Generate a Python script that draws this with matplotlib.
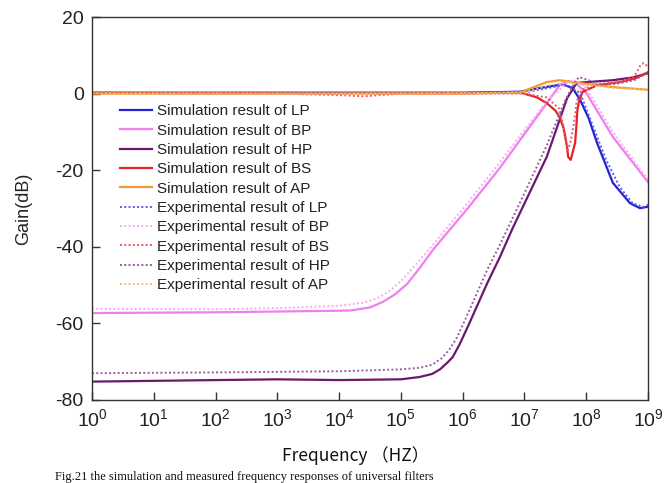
import matplotlib
matplotlib.use("Agg")
import matplotlib.pyplot as plt
import numpy as np
from matplotlib.ticker import FixedLocator, FuncFormatter, NullLocator

plt.rcParams['font.family'] = ['Liberation Sans', 'DejaVu Sans']
plt.rcParams['mathtext.fontset'] = 'custom'
plt.rcParams['mathtext.rm'] = 'Liberation Sans'
plt.rcParams['mathtext.it'] = 'Liberation Sans'
plt.rcParams['axes.unicode_minus'] = False

# ---------------- data (frequency in Hz, gain in dB) ----------------
lp_sim_f = [1, 1e2, 1e4, 1e6, 8.5e6, 2e7, 4.1e7, 6e7, 8e7, 1.1e8, 1.5e8, 2.7e8, 5.1e8, 7.4e8, 9.5e8, 1e9]
lp_sim_g = [0.2, 0.2, 0.2, 0.2, 0.5, 1.6, 2.4, 1.5, -1.7, -6.5, -12.9, -23.3, -28.6, -29.9, -29.6, -29.5]

lp_exp_f = [1, 1e2, 1e4, 1e6, 1e7, 2e7, 4.5e7, 8e7, 1.3e8, 2.1e8, 3.5e8, 5.6e8, 8.3e8, 1e9]
lp_exp_g = [0.3, 0.0, 0.2, 0.1, 0.3, 1.2, 2.3, 0.2, -8.7, -17.3, -24.4, -28.6, -29.6, -29.0]

bp_sim_f = [1, 1e2, 1e3, 1e4, 1.6e4, 3.2e4, 5.1e4, 7.9e4, 1.26e5, 2e5, 3.3e5, 1.2e6, 4e6, 2.3e7, 3.7e7, 5.4e7, 7e7, 1e8, 2.7e8, 1e9]
bp_sim_g = [-57.3, -57.1, -56.9, -56.7, -56.6, -55.8, -54.4, -52.5, -49.7, -45.6, -40.8, -30.0, -19.4, -2.5, 2.2, 3.3, 2.5, 0.2, -11.3, -23.1]

bp_exp_f = [1, 1e2, 1e3, 1e4, 2.5e4, 4.5e4, 7e4, 1.1e5, 1.8e5, 3.3e5, 1.2e6, 4e6, 2.3e7, 5e7, 7e7, 1e8, 2.7e8, 1e9]
bp_exp_g = [-56.2, -56.3, -56.0, -55.4, -54.6, -53.2, -51.2, -48.3, -44.4, -39.5, -28.6, -17.9, -2.0, 3.0, 3.5, 1.5, -10.0, -22.5]

hp_sim_f = [1, 1e2, 1e3, 1e4, 1e5, 2e5, 3.2e5, 4.3e5, 5.6e5, 6.9e5, 8.9e5, 1.2e6, 2.5e6, 4e6, 6.5e6, 2.3e7, 4.9e7, 7e7, 1.5e8, 2.7e8, 5.6e8, 1e9]
hp_sim_g = [-75.2, -74.8, -74.6, -74.8, -74.6, -74.0, -73.2, -72.0, -70.3, -68.8, -65.5, -61.0, -49.5, -42.7, -35.0, -16.5, -1.2, 2.8, 3.2, 3.5, 4.2, 5.3]

hp_exp_f = [1, 1e2, 1e4, 1e5, 2e5, 3.2e5, 4.5e5, 6e5, 8e5, 1.1e6, 2.5e6, 4e6, 1e7, 2.3e7, 4.5e7, 6.3e7, 7.6e7, 1.1e8, 1.5e8, 3e8, 6e8, 1e9]
hp_exp_g = [-73.0, -72.8, -72.5, -72.0, -71.6, -70.8, -69.2, -67.0, -63.8, -59.0, -46.0, -39.5, -26.0, -13.5, -2.0, 2.5, 4.3, 3.5, 2.3, 2.5, 3.5, 5.5]

bs_sim_f = [1, 1e3, 1e6, 8.5e6, 1.6e7, 2.3e7, 3.2e7, 3.7e7, 4.3e7, 4.9e7, 5.1e7, 5.6e7, 6e7, 6.6e7, 6.9e7, 7.2e7, 7.6e7, 8.7e7, 1.5e8, 3.5e8, 6.3e8, 1e9]
bs_sim_g = [0.2, 0.2, 0.2, 0.3, -1.0, -2.5, -4.5, -6.1, -9.0, -14.0, -16.5, -17.3, -15.5, -12.9, -9.0, -4.3, -2.2, 0.4, 2.2, 3.0, 4.0, 5.6]

bs_exp_f = [1, 1e3, 1e4, 2.5e4, 1e5, 1e7, 2.3e7, 3.7e7, 4.5e7, 5e7, 5.5e7, 6.3e7, 7e7, 8.5e7, 1.5e8, 3.5e8, 6e8, 7.6e8, 8.5e8, 1e9]
bs_exp_g = [0.2, 0.0, -0.4, -0.7, 0.0, 0.0, -1.0, -4.0, -10.0, -14.7, -13.0, -8.0, -2.0, 1.0, 2.5, 3.0, 4.5, 7.5, 8.0, 7.0]

ap_sim_f = [1, 1e3, 1e6, 8.5e6, 2.3e7, 3.7e7, 6e7, 2.7e8, 1e9]
ap_sim_g = [0.0, 0.0, 0.0, 0.3, 3.0, 3.5, 3.0, 1.7, 1.0]

ap_exp_f = [1, 1e3, 1e6, 1e7, 2.5e7, 5e7, 8e7, 2.7e8, 1e9]
ap_exp_g = [0.1, 0.0, 0.1, 0.3, 2.2, 3.0, 2.4, 1.5, 1.0]

x_ticks = [1e0, 1e1, 1e2, 1e3, 1e4, 1e5, 1e6, 1e7, 1e8, 1e9]
y_ticks = [-80, -60, -40, -20, 0, 20]

# ---------------- figure ----------------
fig = plt.figure(figsize=(6.64, 4.83), dpi=100)
ax = fig.add_axes([92/664, 1-400/483, 556/664, 383/483])

c_lp, c_bp, c_hp, c_bs, c_ap = '#2323d2', '#f07ef0', '#6a1a6e', '#e5232b', '#f39a2e'
ce_lp, ce_bp, ce_bs, ce_hp, ce_ap = '#5a5ae8', '#f6aaf4', '#ec5a5e', '#9b5c9e', '#f6bc78'

lw = 1.6
dlw = 1.4
dot = (0, (1, 1.2))

ax.plot(lp_sim_f, lp_sim_g, color=c_lp, lw=lw, label='Simulation result of LP')
ax.plot(bp_sim_f, bp_sim_g, color=c_bp, lw=lw, label='Simulation result of BP')
ax.plot(hp_sim_f, hp_sim_g, color=c_hp, lw=lw, label='Simulation result of HP')
ax.plot(bs_sim_f, bs_sim_g, color=c_bs, lw=lw, label='Simulation result of BS')
ax.plot(ap_sim_f, ap_sim_g, color=c_ap, lw=lw, label='Simulation result of AP')
ax.plot(lp_exp_f, lp_exp_g, color=ce_lp, lw=dlw, ls=dot, label='Experimental result of LP')
ax.plot(bp_exp_f, bp_exp_g, color=ce_bp, lw=dlw, ls=dot, label='Experimental result of BP')
ax.plot(bs_exp_f, bs_exp_g, color=ce_bs, lw=dlw, ls=dot, label='Experimental result of BS')
ax.plot(hp_exp_f, hp_exp_g, color=ce_hp, lw=dlw, ls=dot, label='Experimental result of HP')
ax.plot(ap_exp_f, ap_exp_g, color=ce_ap, lw=dlw, ls=dot, label='Experimental result of AP')

ax.set_xscale('log')
ax.set_xlim(1, 1e9)
ax.set_ylim(-80, 20)
ax.xaxis.set_major_locator(FixedLocator(x_ticks))
ax.xaxis.set_minor_locator(NullLocator())
ax.xaxis.set_major_formatter(FuncFormatter(lambda v, p: r'$\mathregular{10^{%d}}$' % round(np.log10(v))))
ax.set_yticks(y_ticks)

ax.tick_params(axis='both', which='major', direction='in', length=6, width=1,
               labelsize=14, color='#333333', labelcolor='#222222')
ax.tick_params(axis='x', pad=6)
ax.tick_params(axis='y', pad=6)
for s in ax.spines.values():
    s.set_color('#333333')
    s.set_linewidth(1.0)

ax.set_ylabel('Gain(dB)', fontsize=13, color='#222222', labelpad=17)
fig.text(356/664, 1-456/483, 'Frequency （HZ）', fontsize=12.5,
         family=['Noto Sans CJK SC', 'DejaVu Sans'], ha='center', va='center', color='#111111')

leg = ax.legend(loc='upper left', bbox_to_anchor=(0.05, 0.772), frameon=False,
                fontsize=11, labelspacing=0.35, handlelength=2.1, handletextpad=0.35,
                borderpad=0, borderaxespad=0)
for t in leg.get_texts():
    t.set_color('#222222')

fig.text(55/664, 3/483, 'Fig.21 the simulation and measured frequency responses of universal filters',
         fontsize=9, family=['Liberation Serif'], ha='left', va='baseline', color='#111111')

fig.savefig('out.png', dpi=100)
